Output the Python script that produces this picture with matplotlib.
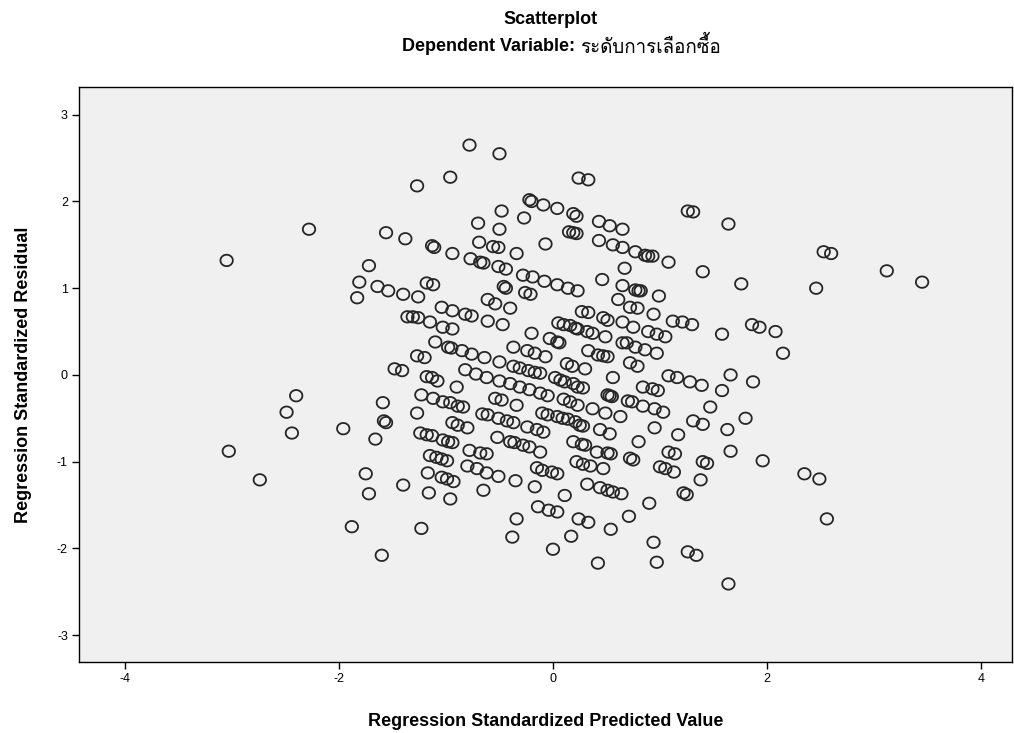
import matplotlib
matplotlib.use("Agg")
import matplotlib.pyplot as plt
import numpy as np
from matplotlib import font_manager
from matplotlib.path import Path

# Regression standardized predicted values and residuals (x, y pairs)
pred = [
    -0.78, -0.50, -0.96, -1.27, 0.24, 0.33, -0.22, -0.20, -0.09, 0.04, -0.48, -0.27, -0.70, -0.50,
    0.19, 0.22, 1.26, 1.31, 1.64, 0.15, 0.19, 0.22, 0.43, 0.53, 0.65, -1.38, -1.13, -1.11, -0.69,
    -0.56, -0.51, -0.07, 0.43, 0.56, 0.65, -0.94, -0.34, -0.77, -0.68, -0.65, -0.51, -0.44, 0.77,
    0.86, 0.89, 0.93, 1.08, 0.67, 1.40, -0.28, -0.19, -0.08, 0.04, 0.14, 0.23, -1.18, -1.12, -0.46,
    -0.44, -1.40, -1.26, -0.26, -0.21, -0.61, 0.46, 0.65, 0.77, 0.80, 0.82, 0.99, 0.61, 2.53, 2.60,
    3.12, 3.45, 1.76, 2.46, -2.28, -3.05, -1.56, -1.72, -1.81, -1.64, -1.54, -1.83,
    -1.36, -1.48, -1.41, -2.40, -2.49, -1.59, -1.58, -1.56, -2.44, -1.96, -1.66, -3.03,
    -2.74, -1.75, -1.40, -1.72, -1.88, -1.60,
    1.96, 2.35, 2.49, 2.56, 1.64, 1.86, 1.93, 2.08, 2.15, 1.58, 1.66, 1.87, 1.58, 1.80, 1.66,
    0.22, 0.28, 0.35, 0.47, 0.41, 0.51, 0.54, 0.72, 0.75, 1.00, 1.05, 1.13, 1.08, 1.14, 1.40, 1.44,
    1.38, 0.32, 0.44, 0.51, 0.56, 0.64, 0.90, 1.22, 1.25, 0.24, 0.33, 0.71, 0.54, 0.94, 1.26,
    1.34, 0.42, 0.97,
    -1.15, -1.09, -1.04, -0.99, -0.78, -0.68, -0.62, -0.12, -1.17, -0.80, -0.71, -0.62, -0.51,
    -1.04, -0.99, -0.93, -0.35, -0.15, -0.10, -0.01, 0.04, -1.16, -0.96, -0.65, -0.17, 0.11,
    -0.14, -0.04, 0.04, -0.34, -1.23, -0.38, 0.17, 0.00,
    -0.54, -1.04, -0.94, -0.82, -0.76, -0.40, -1.31, -1.26, -1.15, -1.03, -0.94, -0.61, -0.47,
    -0.20, 0.05, 0.10, -1.10, -0.98, -0.95, -0.85, -0.76, -0.64, -0.37, -0.24, -0.17, -0.07,
    -0.03, 0.04, 0.06, -1.27, -1.20, -0.82, -0.72, -0.62, -0.50, -0.50, -0.37, -0.31, -0.23,
    -0.17, -0.12, 0.13, 0.18, 0.30, -1.18, -1.13, -1.08, -0.90, -0.40, -0.31, 0.02, 0.07, -0.22,
    -0.12, -0.05, -1.23, -1.12, -1.03, -0.96, -0.89, -0.84, -0.54, -0.48, -0.34, 0.10, -1.27,
    -0.66, -0.61, -0.51, -0.43, -0.37, -0.10, -0.05, 0.04, 0.09, 0.14, -0.94, -0.89, -0.80,
    -0.24, -0.15, -0.09, -1.24, -1.18, -1.13, -1.03, -0.98, -0.94, -0.52, -0.40, -0.36, -0.28,
    -0.22,
    0.72, 0.79, 0.27, 0.33, 0.47, 0.51, 0.65, 0.94, 1.12, 1.21, 1.30, 0.16, 0.21, 0.23, 0.32,
    0.37, 0.49, 0.75, 0.89, 0.97, 1.05, 0.65, 0.69, 0.77, 0.86, 0.97, 0.33, 0.42, 0.47, 0.51,
    0.72, 0.79, 0.56, 1.08, 1.16, 1.28, 1.39, 0.11, 0.19, 0.23, 0.28, 0.84, 0.93, 0.98, 0.51,
    0.53, 0.55, 0.70, 0.74, 0.84, 0.95, 1.03, 0.16, 0.23, 0.37, 0.49, 0.63, 1.47, 0.21, 0.25,
    0.28, 1.31, 1.40, 0.95, 0.44, 0.53, 1.17, 1.63, 0.19, 0.27, 0.30, 0.80,
]
resid = [
    2.65, 2.55, 2.28, 2.18, 2.27, 2.25, 2.02, 2.00, 1.96, 1.92, 1.89, 1.81, 1.75, 1.68,
    1.86, 1.83, 1.89, 1.88, 1.74, 1.65, 1.64, 1.63, 1.77, 1.72, 1.68, 1.57, 1.49, 1.47, 1.53,
    1.48, 1.47, 1.51, 1.55, 1.50, 1.47, 1.40, 1.40, 1.34, 1.30, 1.29, 1.25, 1.22, 1.42,
    1.38, 1.37, 1.37, 1.30, 1.23, 1.19, 1.15, 1.13, 1.08, 1.04, 1.00, 0.97, 1.06, 1.04, 1.02,
    1.00, 0.93, 0.90, 0.95, 0.93, 0.87, 1.10, 1.03, 0.98, 0.97, 0.97, 0.91, 0.87, 1.42, 1.40,
    1.20, 1.07, 1.05, 1.00, 1.68, 1.32, 1.64, 1.26, 1.07, 1.02, 0.97, 0.89,
    0.67, 0.07, 0.05, -0.24, -0.43, -0.32, -0.53, -0.55, -0.67, -0.62, -0.74, -0.88,
    -1.21, -1.14, -1.27, -1.37, -1.75, -2.08,
    -0.99, -1.14, -1.20, -1.66, -2.41, 0.58, 0.55, 0.50, 0.25, 0.47, 0.00, -0.08, -0.18, -0.50, -0.88,
    -1.00, -1.03, -1.05, -1.08, -0.89, -0.90, -0.91, -0.96, -0.98, -1.06, -1.08, -1.12, -0.89, -0.91, -1.00, -1.02,
    -1.21, -1.26, -1.30, -1.33, -1.35, -1.37, -1.48, -1.36, -1.38, -1.66, -1.70, -1.63, -1.78, -1.93, -2.04,
    -2.08, -2.17, -2.16,
    -0.93, -0.95, -0.97, -0.99, -0.87, -0.90, -0.91, -0.89, -1.13, -1.05, -1.08, -1.13, -1.17,
    -1.18, -1.20, -1.23, -1.22, -1.07, -1.10, -1.12, -1.14, -1.36, -1.43, -1.33, -1.29, -1.39,
    -1.52, -1.56, -1.58, -1.66, -1.77, -1.87, -1.86, -2.01,
    0.82, 0.78, 0.74, 0.70, 0.68, 0.77, 0.67, 0.66, 0.61, 0.55, 0.53, 0.62, 0.58,
    0.48, 0.60, 0.58, 0.38, 0.32, 0.31, 0.28, 0.24, 0.20, 0.32, 0.28, 0.25, 0.21,
    0.42, 0.38, 0.37, 0.22, 0.20, 0.06, 0.01, -0.03, -0.07, 0.15, 0.10, 0.08, 0.05,
    0.03, 0.02, 0.13, 0.10, 0.07, -0.02, -0.03, -0.07, -0.14, -0.10, -0.14, -0.03, -0.06, -0.17,
    -0.21, -0.24, -0.23, -0.27, -0.31, -0.32, -0.36, -0.37, -0.27, -0.29, -0.35, -0.28, -0.44,
    -0.45, -0.46, -0.50, -0.53, -0.55, -0.44, -0.46, -0.48, -0.50, -0.51, -0.55, -0.58, -0.61,
    -0.60, -0.63, -0.66, -0.67, -0.69, -0.70, -0.75, -0.77, -0.78, -0.72, -0.77, -0.78, -0.81,
    -0.83,
    0.78, 0.77, 0.73, 0.72, 0.66, 0.63, 0.61, 0.70, 0.62, 0.61, 0.58, 0.57, 0.54, 0.53, 0.50,
    0.48, 0.44, 0.55, 0.50, 0.47, 0.44, 0.37, 0.37, 0.32, 0.29, 0.25, 0.28, 0.23, 0.22, 0.21,
    0.14, 0.10, -0.03, -0.01, -0.03, -0.08, -0.12, -0.08, -0.10, -0.14, -0.15, -0.14, -0.16, -0.18, -0.23,
    -0.24, -0.25, -0.30, -0.31, -0.36, -0.39, -0.43, -0.31, -0.35, -0.39, -0.44, -0.48, -0.37, -0.54, -0.58,
    -0.59, -0.53, -0.57, -0.61, -0.63, -0.68, -0.69, -0.63, -0.77, -0.80, -0.81, -0.77,
]

x_ticks = [-4, -2, 0, 2, 4]
y_ticks = [-3, -2, -1, 0, 1, 2, 3]

title_main = "Scatterplot"
title_sub_en = "Dependent Variable: "
title_sub_th = "ระดับการเลือกซื้อ"
x_label = "Regression Standardized Predicted Value"
y_label = "Regression Standardized Residual"


def thai_family():
    """Pick an installed family that actually covers Thai script."""
    try:
        from fontTools.ttLib import TTFont
    except Exception:
        return None
    for fe in font_manager.fontManager.ttflist:
        try:
            f = TTFont(fe.fname, fontNumber=0, lazy=True)
            cmap = f.getBestCmap() or {}
            if 0x0E23 in cmap and 0x0E0B in cmap:
                return fe.name
        except Exception:
            continue
    return None


base = "Liberation Sans"
th = thai_family()
fam = [base] + ([th] if th else []) + ["DejaVu Sans"]
plt.rcParams["font.family"] = fam

# slightly flattened open circle marker
theta = np.linspace(0, 2 * np.pi, 49)
ellipse = Path(np.column_stack([np.cos(theta), 0.92 * np.sin(theta)]), closed=True)

fig = plt.figure(figsize=(10.14, 7.33), dpi=100)
ax = fig.add_axes([0.0779, 0.0969, 0.9201, 0.7844])
ax.set_facecolor("#f0f0f0")

ax.scatter(pred, resid, s=80, marker=ellipse, facecolors="none",
           edgecolors="#262626", linewidths=1.3, zorder=3)

ax.set_xlim(-4.43, 4.29)
ax.set_ylim(-3.31, 3.32)
ax.set_xticks(x_ticks)
ax.set_yticks(y_ticks)
ax.set_xticklabels([str(v) for v in x_ticks])
ax.set_yticklabels([str(v) for v in y_ticks])
ax.tick_params(axis="both", direction="out", length=5, width=1, labelsize=9,
               colors="black", pad=3)
for side in ("top", "right", "left", "bottom"):
    ax.spines[side].set_color("black")
    ax.spines[side].set_linewidth(1)

ax.set_xlabel(x_label, fontsize=13, fontweight="bold", labelpad=20)
ax.set_ylabel(y_label, fontsize=13, fontweight="bold", labelpad=18)

fig.text(0.543, 0.973, title_main, ha="center", va="center",
         fontsize=13, fontweight="bold")
t1 = fig.text(0.396, 0.937, title_sub_en, ha="left", va="center",
              fontsize=13, fontweight="bold")
fig.canvas.draw()
bb = t1.get_window_extent()
x_next = bb.x1 / fig.bbox.width
fig.text(x_next, 0.937, title_sub_th, ha="left", va="center", fontsize=13.5,
         family=fam)

fig.savefig("out.png", dpi=100, facecolor="white")
